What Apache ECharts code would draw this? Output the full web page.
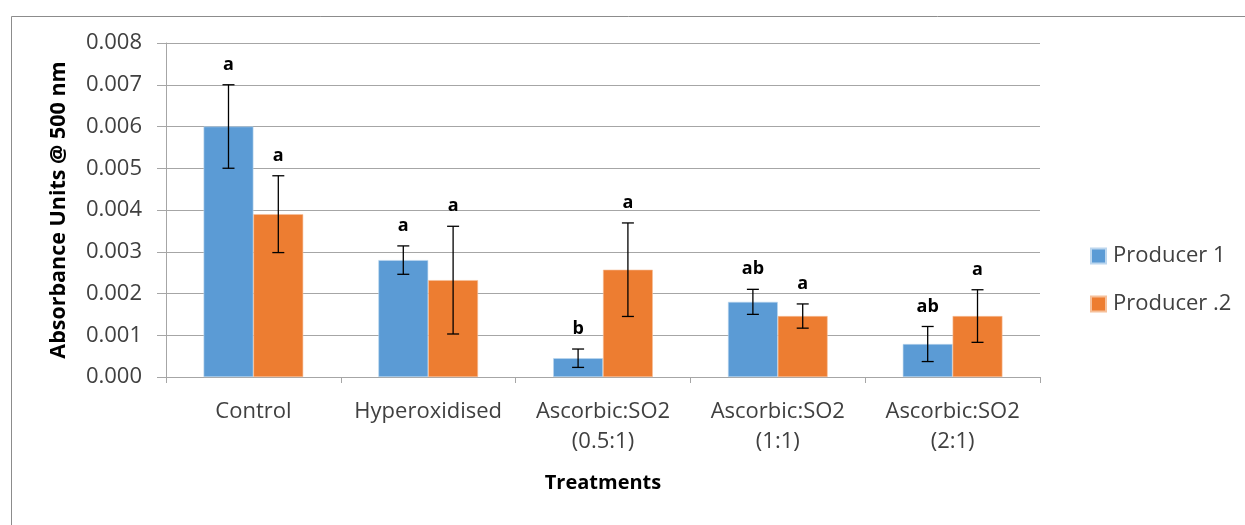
<!DOCTYPE html>
<html>
<head>
<meta charset="utf-8">
<script src="https://cdn.jsdelivr.net/npm/echarts@6/dist/echarts.min.js"></script>
<style>html,body{margin:0;padding:0;background:#fff;}#c{width:1245px;height:525px;}</style>
</head>
<body>
<div id="c"></div>
<script>
const categories = ['Control', 'Hyperoxidised', 'Ascorbic:SO2\n(0.5:1)', 'Ascorbic:SO2\n(1:1)', 'Ascorbic:SO2\n(2:1)'];
const seriesNames = ['Producer 1', 'Producer .2'];
const producer1 = [0.0060, 0.0028, 0.00045, 0.0018, 0.00079];
const producer2 = [0.0039, 0.00232, 0.00257, 0.00146, 0.00146];
const producer1Err = [0.0010, 0.00034, 0.00022, 0.00030, 0.00042];
const producer2Err = [0.00092, 0.00129, 0.00112, 0.00029, 0.00063];
const producer1Letters = ['a', 'a', 'b', 'ab', 'ab'];
const producer2Letters = ['a', 'a', 'a', 'a', 'a'];
const yTicks = [0, 0.001, 0.002, 0.003, 0.004, 0.005, 0.006, 0.007, 0.008];

const FONT = '"Open Sans", "Noto Sans", sans-serif';
const BLUE = '#5b9bd5', ORANGE = '#ed7d31';
const CAT_GAP = 0.43;

function errSeries(vals, errs, letters, sign) {
  return {
    type: 'custom',
    z: 10,
    silent: true,
    data: vals.map((v, i) => [i, v, errs[i], letters[i]]),
    renderItem: function (params, api) {
      const i = api.value(0), v = api.value(1), e = api.value(2);
      const band = api.size([1, 0])[0];
      const bw = band * (1 - CAT_GAP) / 2;
      const c = api.coord([i, v]);
      const x = c[0] + sign * bw / 2;
      const yTop = api.coord([i, v + e])[1];
      const yBot = api.coord([i, v - e])[1];
      const cap = 6;
      const st = { stroke: '#000', lineWidth: 1.3 };
      return {
        type: 'group',
        children: [
          { type: 'line', shape: { x1: x, y1: yTop, x2: x, y2: yBot }, style: st },
          { type: 'line', shape: { x1: x - cap, y1: yTop, x2: x + cap, y2: yTop }, style: st },
          { type: 'line', shape: { x1: x - cap, y1: yBot, x2: x + cap, y2: yBot }, style: st },
          { type: 'text', style: { text: letters[i], x: x, y: yTop - 20, align: 'center', verticalAlign: 'middle',
              font: 'bold 18px ' + FONT, fill: '#000' } }
        ]
      };
    }
  };
}

const chart = echarts.init(document.getElementById('c'), null, { renderer: 'canvas' });
chart.setOption({
  animation: false,
  backgroundColor: '#fff',
  textStyle: { fontFamily: FONT },
  graphic: [{ type: 'rect', shape: { x: 11.5, y: 16.5, width: 1260, height: 540 },
    style: { fill: 'none', stroke: '#8c8c8c', lineWidth: 1 }, silent: true, z: -1 }],
  grid: { left: 166, right: 205, top: 43, bottom: 148, containLabel: false },
  legend: {
    orient: 'vertical', left: 1085, top: 240, itemWidth: 15, itemHeight: 15, itemGap: 26,
    icon: 'rect', data: seriesNames,
    textStyle: { fontSize: 22, color: '#404040', fontFamily: FONT, padding: [0, 0, 0, 2] }
  },
  xAxis: {
    type: 'category', data: categories,
    name: 'Treatments', nameLocation: 'middle', nameGap: 96,
    nameTextStyle: { fontSize: 20, fontWeight: 'bold', color: '#000', fontFamily: FONT },
    axisLine: { lineStyle: { color: '#a6a6a6', width: 1 } },
    axisTick: { show: true, length: 6, lineStyle: { color: '#a6a6a6' } },
    axisLabel: { interval: 0, fontSize: 22, color: '#404040', lineHeight: 30, margin: 20, fontFamily: FONT }
  },
  yAxis: {
    type: 'value', min: 0, max: 0.008, interval: 0.001,
    name: 'Absorbance Units @ 500 nm', nameLocation: 'middle', nameGap: 96, nameRotate: 90,
    nameTextStyle: { fontSize: 21.5, fontWeight: 'bold', color: '#000', fontFamily: FONT },
    axisLine: { show: true, lineStyle: { color: '#a6a6a6', width: 1 } },
    axisTick: { show: true, length: 9, lineStyle: { color: '#a6a6a6' } },
    splitLine: { lineStyle: { color: '#a6a6a6', width: 1 } },
    axisLabel: { fontSize: 22, color: '#404040', margin: 24, fontFamily: FONT,
      formatter: v => { const t = yTicks.find(x => Math.abs(x - v) < 1e-9); return (t !== undefined ? t : v).toFixed(3); } }
  },
  series: [
    { name: seriesNames[0], type: 'bar', data: producer1, barGap: '0%', barCategoryGap: (CAT_GAP * 100) + '%',
      itemStyle: { color: BLUE, borderColor: '#bcd6ee', borderWidth: 0.6 } },
    { name: seriesNames[1], type: 'bar', data: producer2, barGap: '0%', barCategoryGap: (CAT_GAP * 100) + '%',
      itemStyle: { color: ORANGE, borderColor: '#f6c09a', borderWidth: 0.6 } },
    errSeries(producer1, producer1Err, producer1Letters, -1),
    errSeries(producer2, producer2Err, producer2Letters, 1)
  ]
});
</script>
</body>
</html>
